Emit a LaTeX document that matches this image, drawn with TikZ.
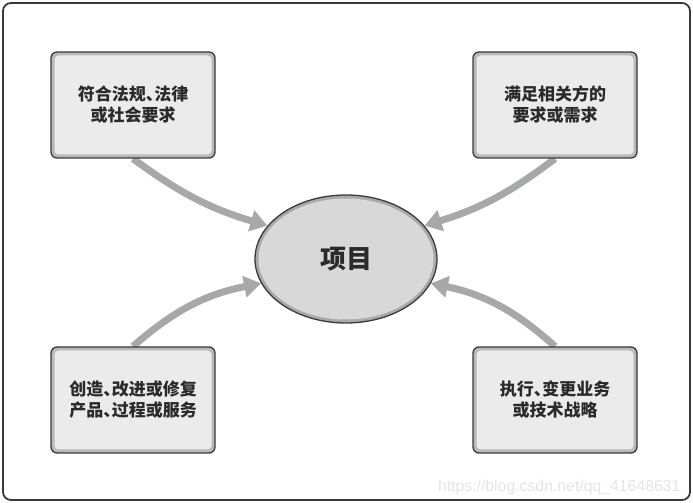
\documentclass[tikz,border=0pt]{standalone}
\usepackage{fontspec}
\newfontfamily\cjk{Noto Sans CJK SC}[RawFeature=+halt]
\newfontfamily\markfont{Liberation Sans}
\usetikzlibrary{shapes.geometric, arrows.meta, positioning, backgrounds}
\definecolor{edgecol}{HTML}{3A3A3A}
\definecolor{ringcol}{HTML}{B9B9B9}
\definecolor{boxcol}{HTML}{EBEBEB}
\definecolor{projring}{HTML}{A9A9A9}
\definecolor{projcol}{HTML}{D8D8D8}
\definecolor{flowcol}{HTML}{A7A8AA}
\definecolor{textcol}{HTML}{2A2A2A}
\definecolor{markcol}{HTML}{E4E4E4}

\begin{document}
\begin{tikzpicture}[x=1pt, y=1pt,
    every node/.style={font=\cjk\bfseries\fontsize{17}{21}\selectfont, align=center, text=textcol},
    box/.style={draw=edgecol, line width=1.3pt, fill=ringcol, rounded corners=6pt,
        minimum width=164pt, minimum height=106pt,
        path picture={\fill[boxcol, rounded corners=4pt]
            ([shift={(3.5pt,-3.5pt)}]path picture bounding box.north west) rectangle
            ([shift={(-3.5pt,3.5pt)}]path picture bounding box.south east);}},
    projshape/.style={ellipse, draw=edgecol, line width=1.3pt, fill=projring,
        minimum width=182pt, minimum height=128pt, inner sep=0pt,
        path picture={\fill[projcol] (path picture bounding box.center)
            ellipse [x radius=87.5pt, y radius=60.5pt];}},
    flow/.style={draw=flowcol, line width=7pt, -{Triangle[length=17pt, width=21pt]}}]
    \useasboundingbox (0,0) rectangle (693,503);
    \draw[edgecol, line width=1.8pt, rounded corners=8pt] (3,3) rectangle (690,500);

    \node (proj) [projshape] at (346,244) {\fontsize{26}{30}\selectfont 项目};
    \node (tl) [box] at (133,398) {符合法规、法律\\或社会要求};
    \node (tr) [box] at (555,398) {满足相关方的\\要求或需求};
    \node (bl) [box] at (133,103) {创造、改进或修复\\产品、过程或服务};
    \node (br) [box] at (555,103) {执行、变更业务\\或技术战略};

    \begin{scope}[on background layer]
        \draw [flow] (tl.south) to[bend right=10] (proj.157);
        \draw [flow] (tr.south) to[bend left=10] (proj.23);
        \draw [flow] (bl.north) to[bend left=15] (proj.-164);
        \draw [flow] (br.north) to[bend right=15] (proj.-16);
    \end{scope}

    \node (mark) [anchor=base east, font=\markfont\fontsize{15.8}{16}\selectfont, text=markcol]
        at (684,11) {https://blog.csdn.net/qq\_41648631};
\end{tikzpicture}
\end{document}
